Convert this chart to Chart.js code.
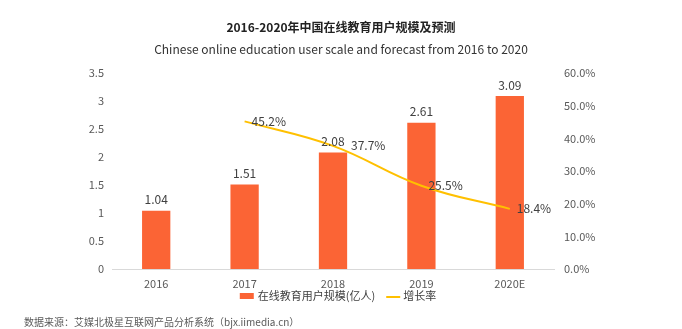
<!DOCTYPE html>
<html>
<head>
<meta charset="utf-8">
<script src="https://cdn.jsdelivr.net/npm/chart.js@4"></script>
<style>
  html, body { margin: 0; padding: 0; background: #fff; }
  #wrap { width: 682px; height: 329px; }
</style>
</head>
<body>
<div id="wrap"><canvas id="myChart" width="682" height="329"></canvas></div>
<script>
const years = ["2016", "2017", "2018", "2019", "2020E"];
const users = [1.04, 1.51, 2.08, 2.61, 3.09];
const growth = [null, 0.452, 0.377, 0.255, 0.184];
const barName = "在线教育用户规模(亿人)";
const lineName = "增长率";

const FONT = "'Noto Sans CJK SC', 'Noto Sans', sans-serif";
const BAR_COLOR = "#FB6435";
const LINE_COLOR = "#FFC000";

const textPlugin = {
  id: "texts",
  afterDraw(chart) {
    const ctx = chart.ctx;
    ctx.save();
    ctx.fillStyle = "#222";
    ctx.textAlign = "center";
    ctx.textBaseline = "middle";
    ctx.font = "bold 12px " + FONT;
    ctx.fillText("2016-2020年中国在线教育用户规模及预测", 341, 27);
    ctx.font = "12px " + FONT;
    ctx.fillStyle = "#333";
    ctx.fillText("Chinese online education user scale and forecast from 2016 to 2020", 341, 49);
    ctx.font = "10px " + FONT;
    ctx.fillStyle = "#595959";
    ctx.textAlign = "left";
    ctx.fillText("数据来源：艾媒北极星互联网产品分析系统（bjx.iimedia.cn）", 24, 322);

    // legend (bar swatch + line swatch), centred under the plot
    const ds = chart.data.datasets;
    ctx.font = "11px " + FONT;
    ctx.fillStyle = "#404040";
    const w1 = ctx.measureText(ds[0].label).width;
    const w2 = ctx.measureText(ds[1].label).width;
    const total = 14 + 4 + w1 + 11 + 14 + 3 + w2;
    let lx = 338 - total / 2;
    const ly = 296;
    ctx.fillStyle = ds[0].backgroundColor;
    ctx.fillRect(lx, ly - 3, 14, 6);
    lx += 18;
    ctx.fillStyle = "#404040";
    ctx.textBaseline = "middle";
    ctx.fillText(ds[0].label, lx, ly);
    lx += w1 + 11;
    ctx.strokeStyle = ds[1].borderColor;
    ctx.lineWidth = 2;
    ctx.beginPath();
    ctx.moveTo(lx, ly + 1);
    ctx.lineTo(lx + 14, ly + 1);
    ctx.stroke();
    lx += 17;
    ctx.fillText(ds[1].label, lx, ly);

    // value labels
    ctx.font = "12px " + FONT;
    ctx.fillStyle = "#404040";
    const barMeta = chart.getDatasetMeta(0);
    barMeta.data.forEach((el, i) => {
      ctx.textAlign = "center";
      ctx.textBaseline = "bottom";
      ctx.fillText(users[i].toFixed(2), el.x, el.y - 5);
    });
    const lineMeta = chart.getDatasetMeta(1);
    lineMeta.data.forEach((el, i) => {
      if (growth[i] == null) return;
      // the 2018 label is pushed right so it clears the bar value
      const dx = i === 2 ? 18 : 7;
      ctx.textAlign = "left";
      ctx.textBaseline = "middle";
      ctx.fillText((growth[i] * 100).toFixed(1) + "%", el.x + dx, el.y);
    });
    ctx.restore();
  }
};

new Chart(document.getElementById("myChart"), {
  data: {
    labels: years,
    datasets: [
      {
        type: "bar",
        label: barName,
        data: users,
        backgroundColor: BAR_COLOR,
        yAxisID: "y",
        barPercentage: 0.64,
        categoryPercentage: 0.5,
        order: 2
      },
      {
        type: "line",
        label: lineName,
        data: growth,
        borderColor: LINE_COLOR,
        backgroundColor: LINE_COLOR,
        borderWidth: 2,
        pointRadius: 0,
        tension: 0.4,
        yAxisID: "y1",
        order: 1
      }
    ]
  },
  options: {
    responsive: false,
    animation: false,
    layout: { padding: { top: 73, bottom: 40, left: 0, right: 0 } },
    plugins: {
      title: { display: false },
      tooltip: { enabled: false },
      legend: { display: false }
    },
    scales: {
      x: {
        grid: { display: false, drawTicks: false },
        border: { color: "#d9d9d9" },
        ticks: { color: "#595959", font: { family: FONT, size: 11 }, padding: 8 },
        afterFit(scale) { scale.height = 20; }
      },
      y: {
        position: "left",
        min: 0, max: 3.5,
        grid: { display: false, drawTicks: false },
        border: { display: false },
        ticks: {
          stepSize: 0.5, color: "#595959", font: { family: FONT, size: 11 }, padding: 8,
          callback: v => String(Math.round(v * 10) / 10)
        },
        afterFit(scale) { scale.width = 112; }
      },
      y1: {
        position: "right",
        min: 0, max: 0.6,
        grid: { display: false, drawTicks: false },
        border: { display: false },
        ticks: {
          stepSize: 0.1, color: "#595959", font: { family: FONT, size: 11 }, padding: 10,
          callback: v => (v * 100).toFixed(1) + "%"
        },
        afterFit(scale) { scale.width = 128; }
      }
    }
  },
  plugins: [textPlugin]
});
</script>
</body>
</html>
